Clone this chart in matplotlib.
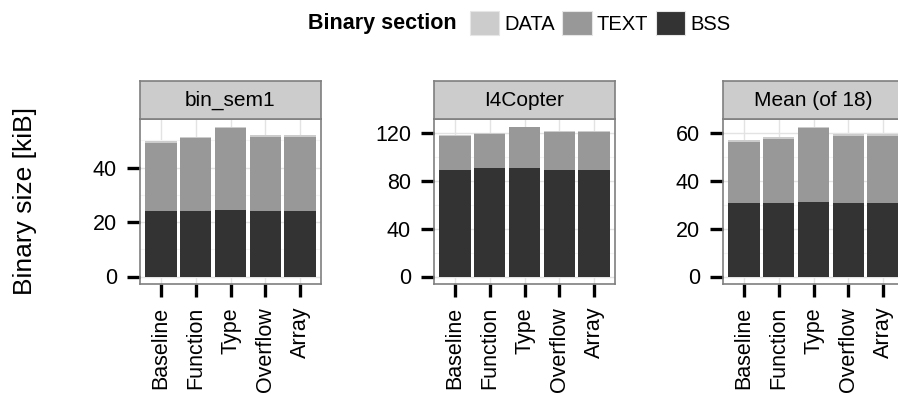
import matplotlib
matplotlib.use("Agg")
import matplotlib.pyplot as plt
from matplotlib.patches import Patch
from matplotlib.ticker import FixedLocator
import numpy as np

plt.rcParams['font.family'] = ['Liberation Sans', 'DejaVu Sans']

# ---------------- data ----------------
categories = ["Baseline", "Function", "Type", "Overflow", "Array"]
panel_titles = ["bin_sem1", "I4Copter", "Mean (of 18)"]

bss_bin_sem1 = [24.1, 24.1, 24.5, 24.1, 24.1]
text_bin_sem1 = [25.1, 26.6, 29.9, 27.3, 27.3]
data_bin_sem1 = [0.7, 0.7, 0.7, 0.7, 0.7]

bss_i4copter = [89.2, 90.3, 90.3, 89.2, 89.2]
text_i4copter = [28.4, 28.4, 34.2, 31.2, 31.2]
data_i4copter = [0.7, 0.7, 0.7, 0.7, 0.7]

bss_mean = [30.7, 30.7, 31.1, 30.7, 30.7]
text_mean = [25.9, 27.1, 31.1, 28.3, 28.3]
data_mean = [0.7, 0.7, 0.7, 0.7, 0.7]

yticks_bin_sem1 = [0, 20, 40]
yticks_i4copter = [0, 40, 80, 120]
yticks_mean = [0, 20, 40, 60]

sections = ["DATA", "TEXT", "BSS"]
colors = {"DATA": "#CCCCCC", "TEXT": "#989898", "BSS": "#333333"}

panels = [
    (panel_titles[0], bss_bin_sem1, text_bin_sem1, data_bin_sem1, yticks_bin_sem1),
    (panel_titles[1], bss_i4copter, text_i4copter, data_i4copter, yticks_i4copter),
    (panel_titles[2], bss_mean, text_mean, data_mean, yticks_mean),
]

# ---------------- layout ----------------
W, H = 898, 394
fig = plt.figure(figsize=(W / 100, H / 100), dpi=100)


def rect(x0, y0, x1, y1):
    return [x0 / W, 1 - y1 / H, (x1 - x0) / W, (y1 - y0) / H]


panel_x = [(140, 321), (434, 615), (723, 904)]
panel_top, panel_bot = 119, 284
strip_top = 81
border_col = "#7F7F7F"

x = np.arange(1, len(categories) + 1)

for (title, bss, text, data, yt), (x0, x1) in zip(panels, panel_x):
    ax = fig.add_axes(rect(x0, panel_top, x1, panel_bot))
    ax.set_facecolor("white")
    bss = np.array(bss)
    text = np.array(text)
    data = np.array(data)
    ax.bar(x, bss, width=0.9, color=colors["BSS"], linewidth=0, zorder=3)
    ax.bar(x, text, bottom=bss, width=0.9, color=colors["TEXT"], linewidth=0, zorder=3)
    ax.bar(x, data, bottom=bss + text, width=0.9, color=colors["DATA"], linewidth=0, zorder=3)
    top = (bss + text + data).max()
    ax.set_ylim(-0.05 * top, 1.05 * top)
    ax.set_xlim(0.4, len(categories) + 0.6)
    ax.set_yticks(yt)
    step = yt[1] - yt[0]
    minors = [v + step / 2 for v in yt] + [yt[0] - step / 2]
    ax.yaxis.set_minor_locator(FixedLocator(minors))
    ax.set_xticks(x)
    ax.set_xticklabels(categories, rotation=90)
    ax.grid(True, which="major", color="#E3E3E3", linewidth=1.0, zorder=0)
    ax.grid(True, which="minor", axis="y", color="#F4F4F4", linewidth=0.8, zorder=0)
    ax.set_axisbelow(True)
    for s in ax.spines.values():
        s.set_color(border_col)
        s.set_linewidth(1.2)
        s.set_zorder(5)
    ax.tick_params(axis="both", which="major", direction="out", length=9.5,
                   width=2.4, color="black", labelsize=15.5, pad=7)
    ax.tick_params(axis="both", which="minor", length=0)

    sax = fig.add_axes(rect(x0, strip_top, x1, panel_top))
    sax.set_facecolor("#CCCCCC")
    sax.set_xticks([])
    sax.set_yticks([])
    for s in sax.spines.values():
        s.set_color(border_col)
        s.set_linewidth(1.2)
    sax.text(0.5, 0.5, title, transform=sax.transAxes, ha="center",
             va="center", fontsize=15)

# y label
fig.text(25 / W, 1 - 201 / H, "Binary size [kiB]", rotation=90,
         ha="center", va="center", fontsize=19)

# legend
fig.text(308 / W, 1 - 23 / H, "Binary section", fontweight="bold",
         fontsize=15.5, ha="left", va="center")
handles = [Patch(facecolor=colors[s], edgecolor="#E6E6E6", linewidth=0.8)
           for s in sections]
fig.legend(handles, sections, ncol=3, loc="center left",
           bbox_to_anchor=(470 / W, 1 - 23 / H), frameon=False, fontsize=14.5,
           handlelength=1.45, handleheight=1.5, handletextpad=0.26,
           columnspacing=0.36, borderpad=0, borderaxespad=0)

fig.savefig("out.png", dpi=100)
